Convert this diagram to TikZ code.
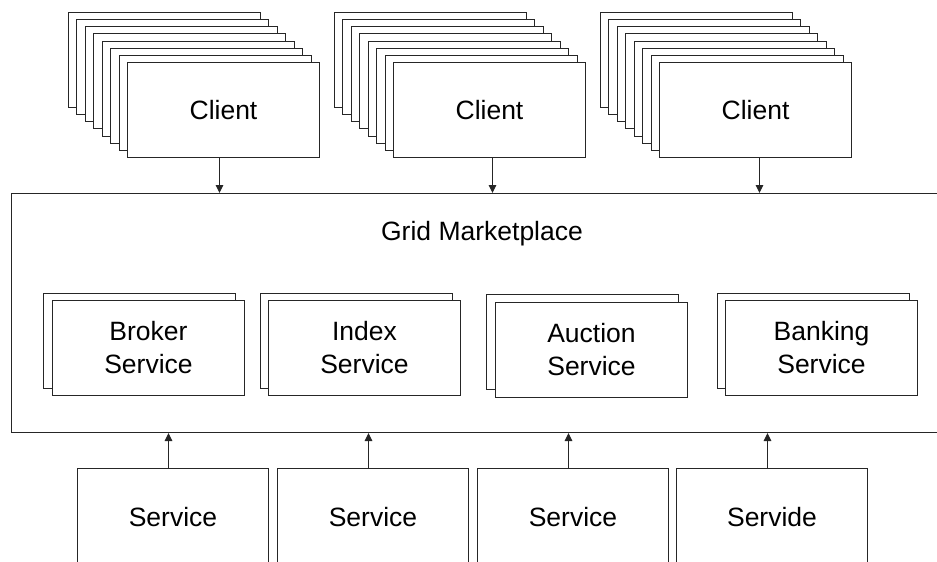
\documentclass[tikz,border=0pt]{standalone}
\usepackage{fontspec}
\setmainfont{Liberation Sans}
\usetikzlibrary{arrows.meta}
\begin{document}
\begin{tikzpicture}[x=1pt,y=-1pt,
  box/.style={draw=black!85, line width=1pt, fill=white, minimum width=192pt,
    minimum height=95pt, inner sep=0pt, align=center, anchor=north west,
    font=\fontsize{26.5}{33}\selectfont},
  lbl/.style={inner sep=0pt, font=\fontsize{26.5}{33}\selectfont},
  link/.style={draw=black!85, line width=1pt, -{Triangle[width=7.5pt,length=8pt]}}]
\useasboundingbox (0,0) rectangle (937,562);
\clip (0,0) rectangle (937,562);

% stacks of client boxes
\foreach \s/\X in {1/68,2/334,3/600} {
  \foreach \k in {0,...,6}
    \node[box] (c\s-\k) at ({\X+8.43*\k},{12+7.14*\k}) {};
  \node[box] (client\s) at ({\X+59},62) {Client};
}

% marketplace frame
\node[box, minimum width=960pt, minimum height=239pt] (market) at (11,193) {};
\node[lbl] (mlabel) at (482,234) {Grid Marketplace};

% marketplace services, each with a shadow copy behind it
\node[box] (brokerb) at (43,293) {};
\node[box] (broker) at (52,300) {Broker\\Service};
\node[box] (indexb) at (260,293) {};
\node[box] (index) at (268,300) {Index\\Service};
\node[box] (auctionb) at (486,294) {};
\node[box] (auction) at (495,302) {Auction\\Service};
\node[box] (bankingb) at (717,293) {};
\node[box] (banking) at (725,300) {Banking\\Service};

% provider services
\node[box, minimum width=191pt, minimum height=98pt] (s1) at (77,468) {Service};
\node[box, minimum width=191pt, minimum height=98pt] (s2) at (277,468) {Service};
\node[box, minimum width=191pt, minimum height=98pt] (s3) at (477,468) {Service};
\node[box, minimum width=191pt, minimum height=98pt] (s4) at (676,468) {Servide};

% client requests into the marketplace
\draw[link] ([xshift=-4pt]client1.south) -- ([xshift=-4pt]client1.south |- market.north);
\draw[link] ([xshift=3pt]client2.south) -- ([xshift=3pt]client2.south |- market.north);
\draw[link] ([xshift=4pt]client3.south) -- ([xshift=4pt]client3.south |- market.north);

% services registering with the marketplace
\foreach \n in {1,...,4}
  \draw[link] ([xshift=-4.5pt]s\n.north) -- ([xshift=-4.5pt]s\n.north |- market.south);
\end{tikzpicture}
\end{document}
